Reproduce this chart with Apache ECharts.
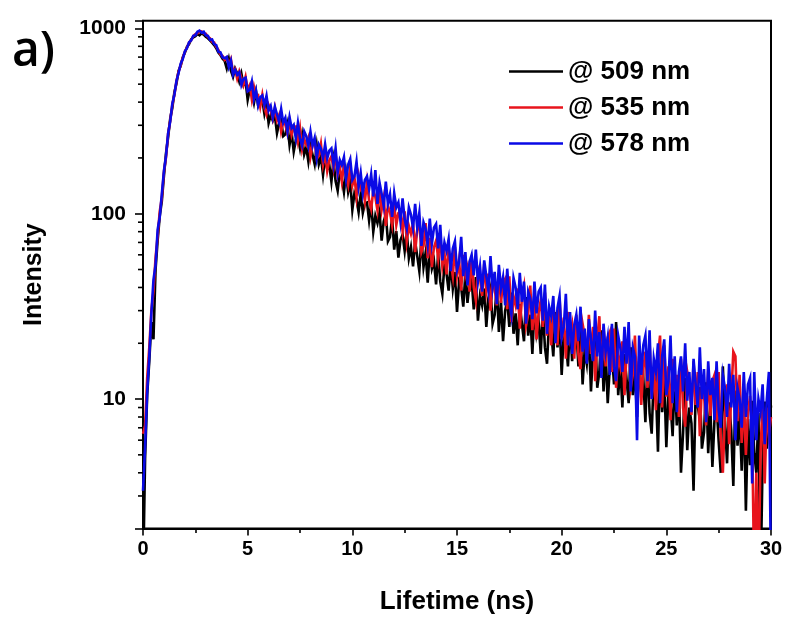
<!DOCTYPE html>
<html>
<head>
<meta charset="utf-8">
<script src="https://cdn.jsdelivr.net/npm/echarts@6/dist/echarts.min.js"></script>
<style>
html,body{margin:0;padding:0;background:#fff;}
#chart{width:789px;height:617px;}
</style>
</head>
<body>
<div id="chart"></div>
<script>
// Time channels: 0 ... 30 ns, one reading every 0.1 ns
const timeStep = 0.1;
const seriesNames = ['@ 509 nm', '@ 535 nm', '@ 578 nm'];
const seriesColors = ['#000000', '#e8141c', '#0a0ae6'];

// Intensity, one value per 0.1 ns (301 values each)
const s509 = [
  1, 4.8, 10.5, 16, 26, 21, 50, 72, 97, 117,
  160, 212, 258, 326, 372, 452, 505, 590, 628, 698,
  738, 795, 822, 874, 893, 908, 935, 918, 940, 925,
  900, 884, 862, 838, 812, 781, 740, 718, 686, 668,
  608, 683, 591, 547, 607, 571, 516, 571, 496, 519,
  412, 470, 445, 395, 456, 385, 413, 410, 346, 393,
  308, 340, 318, 337, 272, 307, 319, 262, 268, 303,
  235, 274, 216, 250, 261, 225, 265, 209, 228, 191,
  233, 208, 185, 232, 185, 203, 162, 203, 175, 183,
  149, 193, 150, 133, 168, 155, 131, 165, 131, 148,
  105, 129, 120, 102, 128, 101, 114, 115, 92, 114,
  80, 97.5, 89, 102, 71.5, 91, 99, 71, 75, 95.5,
  64, 80.5, 58, 72, 77, 63, 80, 57.5, 66, 52,
  71, 59, 49, 74, 51.5, 61.5, 42.5, 64, 50.5, 55.5,
  41.5, 61, 43, 37, 53, 47.5, 38.5, 54.5, 39.5, 48.5,
  29.5, 43, 40, 31.5, 47.5, 33, 42.5, 44, 30.5, 45.5,
  26.5, 36, 32, 39.5, 24.5, 35, 39.5, 25.5, 28.5, 40.5,
  23, 34, 20.5, 30, 34, 24.5, 37.5, 22.5, 29, 19.5,
  32.5, 25.5, 20.5, 35.5, 22, 28.5, 17.5, 31, 22.5, 26,
  17.5, 31, 19, 15.5, 27, 23.5, 17, 29.5, 19, 26,
  13.5, 22.5, 20.5, 15, 26, 16, 22.5, 24, 15, 24.5,
  12, 18.5, 15.5, 22, 11, 18.5, 23, 11.5, 14, 23.5,
  11, 18, 9.5, 15, 18, 12, 26, 10.5, 15, 9,
  17.5, 12.8, 9.5, 19, 10.5, 14.5, 8, 16, 11, 13,
  7.5, 16.5, 8.4, 6.5, 13.5, 11.5, 5.2, 15.5, 8.5, 13,
  5.5, 10.8, 9.5, 6.3, 13.3, 7.2, 11.3, 4, 6.6, 13,
  5.3, 9, 7.4, 3.2, 10.9, 9.2, 11.6, 5.4, 6.6, 12.3,
  5.1, 9.2, 4.3, 7.7, 9.4, 5.9, 4, 15, 7.8, 4.5,
  9.6, 6.8, 3.4, 11.1, 5.6, 8.5, 4.1, 9.6, 2.5, 7.8,
  4.4, 9.8, 5.1, 4, 8.4, 1, 4.7, 9.7, 5.4, 12,
  9
];
const s535 = [
  6.5, 7.2, 13, 19, 30, 38, 58, 76, 103, 122,
  168, 202, 270, 318, 386, 438, 520, 585, 632, 694,
  748, 788, 836, 865, 906, 932, 940, 965, 962, 938,
  935, 898, 885, 848, 838, 795, 765, 722, 710, 676,
  695, 630, 680, 585, 604, 536, 587, 539, 494, 548,
  468, 495, 414, 483, 428, 435, 378, 438, 372, 343,
  387, 364, 325, 372, 319, 341, 278, 315, 302, 271,
  319, 267, 293, 295, 246, 289, 223, 252, 236, 256,
  203, 235, 246, 198, 205, 238, 184, 211, 170, 194,
  204, 175, 209, 162, 179, 149, 184, 162, 143, 182,
  142, 158, 124, 159, 136, 142, 117, 148, 118, 106,
  133, 123, 104, 135, 105, 122, 86, 110, 102, 87,
  112, 87, 101, 103, 81, 103, 71, 86, 78, 89,
  62, 82, 90, 62, 67, 89, 57.5, 74, 51.5, 66,
  71.5, 57.5, 75, 52, 61, 47, 65, 55, 46, 66,
  46.5, 56.5, 38.5, 60, 46.5, 51.5, 38, 58, 40, 34,
  50, 45, 36, 53.5, 38.5, 47.5, 30, 42.5, 39.5, 32,
  48, 33, 42.5, 44.5, 30.5, 46, 26, 36, 32, 39.5,
  24, 35, 40.5, 25, 28.5, 41, 23.5, 33.5, 21, 29.5,
  34, 24.5, 37.5, 22, 28.5, 19.5, 32, 25, 19.5, 35,
  21, 27.5, 16.5, 29.5, 21.5, 25, 16.5, 28.5, 17.5, 14.5,
  25.5, 22, 16, 28.5, 17.5, 24.5, 12.5, 21, 28, 13.5,
  24.5, 15, 21.5, 23, 14, 24, 11.5, 17.5, 15, 20.5,
  10.5, 17.5, 21, 11.5, 13.5, 22, 10.5, 17, 9.3, 14.5,
  18, 11.5, 20.5, 10, 14.5, 8.7, 17, 22, 9, 19.5,
  10.3, 15, 7.7, 16.5, 11, 13.5, 8, 16.5, 9, 7.1,
  14, 12, 8.2, 16, 9.3, 14, 6.3, 12, 10.5, 7.2,
  14.5, 8.1, 12.5, 13.5, 7.5, 14, 6.2, 4, 8.4, 12,
  5.7, 10.3, 18, 17, 7.6, 13.5, 5.8, 10, 5, 8.5,
  10.4, 6.7, 1, 4, 1, 5.1, 10, 3.5, 9, 6.5,
  8
];
const s578 = [
  3.2, 5.5, 11, 17, 29, 44, 53, 82, 96, 128,
  170, 205, 272, 315, 392, 440, 522, 575, 645, 684,
  752, 781, 842, 860, 912, 918, 958, 972, 948, 960,
  918, 912, 868, 871, 822, 812, 748, 742, 698, 690,
  702, 618, 670, 562, 596, 562, 580, 495, 534, 541,
  457, 465, 517, 416, 461, 384, 425, 435, 386, 433,
  360, 381, 330, 378, 344, 313, 367, 310, 329, 277,
  332, 290, 301, 255, 309, 255, 233, 278, 262, 232,
  277, 233, 256, 200, 236, 224, 199, 237, 199, 219,
  225, 184, 225, 167, 195, 183, 202, 154, 184, 197,
  152, 159, 191, 140, 166, 129, 152, 159, 136, 163,
  124, 172, 113, 147, 128, 110, 149, 113, 127, 96,
  129, 108, 115, 91, 121, 93, 83, 108, 99, 84,
  113, 84, 101, 67, 90, 83, 68, 94, 69, 84,
  88, 65, 87, 56, 70, 63, 73, 49, 65, 71,
  49.5, 54.5, 75, 46, 62, 41, 55, 60, 46.5, 64,
  43, 52, 38, 56, 46, 38.5, 59, 40, 48.5, 32.5,
  53, 39.5, 45.5, 32, 50.5, 34, 28.5, 45, 40, 30.5,
  48, 33.5, 43, 25.5, 38, 35, 27, 43, 29, 38,
  40, 26.5, 41.5, 22.5, 31.5, 28, 36, 20, 31, 36,
  21.5, 24.5, 37, 19.5, 29.5, 17.5, 25, 28.5, 20.5, 31.5,
  18, 24, 15.5, 27, 21, 16, 30, 17, 23, 13,
  25.5, 18, 21.5, 13.5, 25.5, 15, 12.5, 22, 19, 14,
  24.5, 15.5, 26, 11, 19, 17, 6, 22, 13.5, 19.5,
  22, 12.5, 23.5, 10, 16.5, 14, 20, 9.5, 17, 21,
  10.5, 12.5, 22, 9.5, 17, 8.5, 14, 17, 11, 20,
  9.8, 14, 8.5, 16.5, 12, 9, 19, 10, 14.5, 7.5,
  16, 10.5, 13, 7.7, 16, 8.7, 7, 13.5, 11.5, 8,
  15.5, 9, 13.5, 6, 11.5, 10, 7, 14, 8, 12,
  13, 3.5, 14, 6, 10, 8.5, 12, 5.7, 10, 14,
  1
];

// Axis ticks
const xTicks = [0, 5, 10, 15, 20, 25, 30];
const yTickLabels = [10, 100, 1000];
const yMinorTicks = [3, 4, 5, 6, 7, 8, 9, 20, 30, 40, 50, 60, 70, 80, 90, 200, 300, 400, 500, 600, 700, 800, 900];

function toPairs(values) {
  return values.map((v, i) => [Math.round(i * timeStep * 10) / 10, v]);
}

const FONT = "'Liberation Sans', Arial, sans-serif";
const chart = echarts.init(document.getElementById('chart'), null, { renderer: 'canvas' });

const lineSeries = [s509, s535, s578].map((vals, k) => ({
  name: seriesNames[k],
  type: 'line',
  data: toPairs(vals),
  showSymbol: false,
  symbol: 'none',
  lineStyle: { color: seriesColors[k], width: 2.6, join: 'miter' },
  itemStyle: { color: seriesColors[k] },
  z: 2 + k,
  clip: true,
  animation: false
}));

const minorTickSeries = {
  type: 'custom',
  name: 'minorTicks',
  silent: true,
  clip: false,
  z: 10,
  data: yMinorTicks.map(v => [0, v]),
  renderItem: function (params, api) {
    const p = api.coord([0, api.value(1)]);
    return {
      type: 'line',
      shape: { x1: p[0] - 5, y1: p[1], x2: p[0], y2: p[1] },
      style: { stroke: '#000', lineWidth: 1.6 }
    };
  }
};

chart.setOption({
  animation: false,
  backgroundColor: '#fff',
  grid: {
    left: 143, right: 18, top: 20.7, bottom: 88.4,
    containLabel: false,
    outerBoundsMode: 'none',
    show: true, borderColor: '#000', borderWidth: 2, backgroundColor: 'transparent'
  },
  legend: {
    data: seriesNames,
    orient: 'vertical',
    left: 504, top: 53.5,
    icon: 'rect',
    itemWidth: 54, itemHeight: 2.5,
    itemGap: 10,
    textStyle: { fontFamily: FONT, fontWeight: 'bold', fontSize: 26, lineHeight: 26, color: '#000' }
  },
  xAxis: {
    type: 'value',
    min: xTicks[0], max: xTicks[xTicks.length - 1], interval: 5,
    name: 'Lifetime (ns)', nameLocation: 'middle', nameGap: 60,
    nameTextStyle: { fontFamily: FONT, fontWeight: 'bold', fontSize: 26, color: '#000' },
    axisLine: { onZero: false, lineStyle: { color: '#000', width: 2 } },
    axisTick: { show: true, length: 7, lineStyle: { color: '#000', width: 1.6 } },
    minorTick: { show: true, splitNumber: 2, length: 4.5, lineStyle: { color: '#000', width: 1.6 } },
    axisLabel: { fontFamily: FONT, fontWeight: 'bold', fontSize: 20, color: '#000', margin: 11 },
    splitLine: { show: false }
  },
  yAxis: {
    type: 'log', logBase: 10,
    min: 2, max: 1100,
    name: 'Intensity', nameLocation: 'middle', nameGap: 96,
    nameTextStyle: { fontFamily: FONT, fontWeight: 'bold', fontSize: 25, color: '#000' },
    axisLine: { lineStyle: { color: '#000', width: 2 } },
    axisTick: { show: true, length: 8, lineStyle: { color: '#000', width: 1.6 } },
    axisLabel: {
      fontFamily: FONT, fontWeight: 'bold', fontSize: 21, color: '#000', margin: 17,
      formatter: function (v) {
        const hit = yTickLabels.find(t => Math.abs(t - v) < 1e-6 * t);
        return hit ? String(hit) : '';
      }
    },
    splitLine: { show: false }
  },
  graphic: [{
    type: 'text', left: 12, top: 28,
    style: { text: 'a)', fontFamily: "'Open Sans', sans-serif", fontWeight: 600, fontSize: 48, fill: '#000' }
  }],
  series: lineSeries.concat([minorTickSeries])
});
</script>
</body>
</html>
